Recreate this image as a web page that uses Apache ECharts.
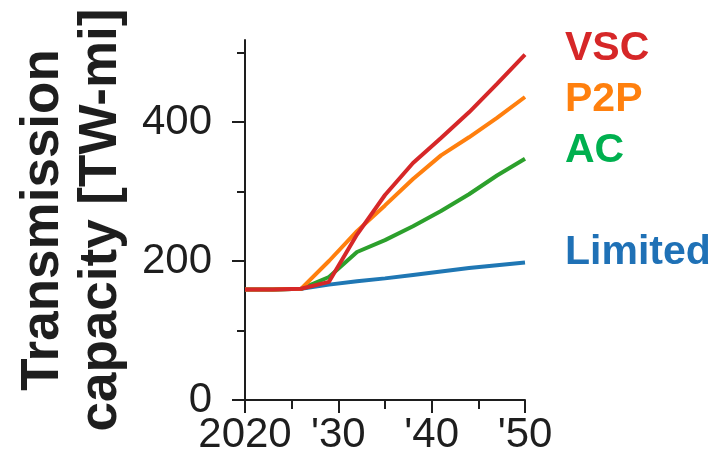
<!DOCTYPE html>
<html>
<head>
<meta charset="utf-8">
<script src="https://cdn.jsdelivr.net/npm/echarts@6/dist/echarts.min.js"></script>
<style>
html,body{margin:0;padding:0;background:#fff;}
#chart{width:719px;height:465px;}
</style>
</head>
<body>
<div id="chart"></div>
<script>
// ---- data ----
var years = [2020, 2023, 2026, 2029, 2032, 2035, 2038, 2041, 2044, 2047, 2050];
var vsc     = [159, 159, 160, 170, 238, 295, 341, 377, 414, 455, 497];
var p2p     = [159, 159, 160, 200, 243, 280, 318, 352, 378, 406, 436];
var ac      = [159, 159, 160, 177, 213, 230, 250, 272, 296, 323, 347];
var limited = [159, 159, 160, 166, 171, 175, 180, 185, 190, 194, 198];
var seriesNames = ['VSC', 'P2P', 'AC', 'Limited'];
var xTickValues = [2020, 2030, 2040, 2050];
var xTickLabels = ['2020', "'30", "'40", "'50"];
var yLabelValues = [0, 200, 400];
var yMinorValues = [100, 300, 500];
var yTitle = 'Transmission\ncapacity [TW-mi]';

function pairs(vals) { return years.map(function (y, i) { return [y, vals[i]]; }); }

var font = '"Liberation Sans", Arial, Helvetica, sans-serif';
var axisColor = '#1e1e1e';

function mkSeries(name, vals, lineColor, textColor, offset) {
  return {
    name: name, type: 'line', data: pairs(vals), symbol: 'none', smooth: false,
    lineStyle: { color: lineColor, width: 4 },
    endLabel: {
      show: true, formatter: name, color: textColor, fontSize: 41, fontWeight: 'bold',
      fontFamily: font, distance: 40, offset: offset
    },
    animation: false, silent: true
  };
}

var chart = echarts.init(document.getElementById('chart'), null, { renderer: 'canvas' });
chart.setOption({
  backgroundColor: '#ffffff',
  animation: false,
  grid: { left: 245, right: 194, top: 40, bottom: 65, containLabel: false },
  xAxis: {
    type: 'value', min: 2020, max: 2050, interval: 10,
    axisLine: { show: true, lineStyle: { color: axisColor, width: 2 } },
    axisTick: { show: true, length: 13, lineStyle: { color: axisColor, width: 2 } },
    minorTick: { show: true, splitNumber: 2, length: 9, lineStyle: { color: axisColor, width: 2 } },
    splitLine: { show: false },
    axisLabel: {
      fontSize: 42, color: axisColor, fontFamily: font, margin: 14,
      formatter: function (v) { var i = xTickValues.indexOf(v); return i >= 0 ? xTickLabels[i] : ''; }
    }
  },
  yAxis: [{
    type: 'value', min: 0, max: 518, position: 'left',
    axisLine: { show: true, onZero: false, lineStyle: { color: axisColor, width: 2 } },
    axisTick: { show: true, length: 13, customValues: yLabelValues, lineStyle: { color: axisColor, width: 2 } },
    splitLine: { show: false },
    axisLabel: { fontSize: 42, color: axisColor, fontFamily: font, margin: 33, customValues: yLabelValues },
    name: yTitle, nameLocation: 'middle', nameRotate: 90, nameGap: 115,
    nameTextStyle: { fontSize: 53, fontWeight: 'bold', color: axisColor, fontFamily: font, lineHeight: 58 }
  }, {
    type: 'value', min: 0, max: 518, position: 'left', offset: 0,
    axisLine: { show: false },
    axisTick: { show: true, length: 8, customValues: yMinorValues, lineStyle: { color: axisColor, width: 2 } },
    splitLine: { show: false },
    axisLabel: { show: false }
  }],
  series: [
    mkSeries(seriesNames[3], limited, '#1f77b4', '#1f71b6', [0, -10]),
    mkSeries(seriesNames[2], ac, '#2ca02c', '#00b04f', [0, -8]),
    mkSeries(seriesNames[1], p2p, '#ff7f0e', '#ff800e', [0, 3]),
    mkSeries(seriesNames[0], vsc, '#d62728', '#d62728', [0, -6])
  ]
});
</script>
</body>
</html>
